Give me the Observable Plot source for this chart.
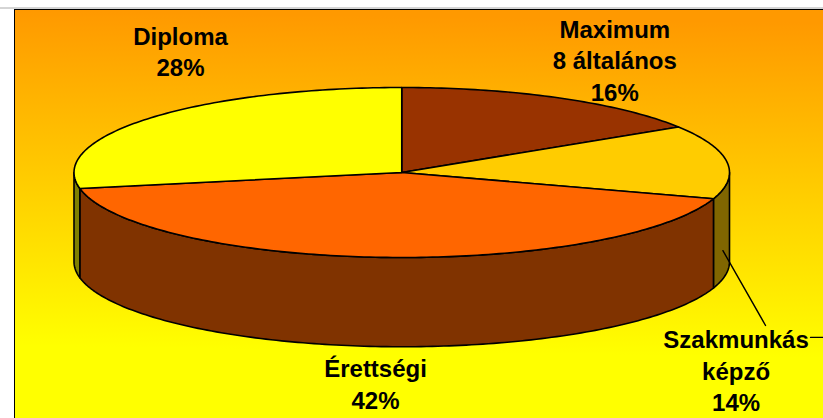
<!DOCTYPE html>
<html><head><meta charset="utf-8">
<script src="https://cdn.jsdelivr.net/npm/d3@7"></script>
<script src="https://cdn.jsdelivr.net/npm/@observablehq/plot@0.6"></script>
<style>html,body{margin:0;padding:0;background:#fff;overflow:hidden}svg{display:block}</style>
</head><body><div id="chart"></div>
<script>
const categories = ["Maximum\n8 általános\n16%", "Szakmunkás\nképző\n14%", "Érettségi\n42%", "Diploma\n28%"];
const shares = [16, 14, 42, 28];
const topColors = ["#993300", "#FFCC00", "#FF6600", "#FFFF00"];
const sideColors = ["#4d1a00", "#806600", "#803300", "#808000"];
const labelX = [0.65, 1.02, -0.08, -0.675];
const labelY = [1.84, -1.81, -2.15, 1.76];
const leaderX = [0.98, 1.11];
const leaderY = [-0.92, -1.8];
const stubX = [1.247, 1.3];
const stubY = [-1.94, -1.94];
const depth = 1.05;

const rad = d => d * Math.PI / 180;
const pt = (deg, drop = 0) => ({x: Math.sin(rad(deg)), y: Math.cos(rad(deg)) - drop});
function arc(a, b) {
  const out = [], n = Math.max(2, Math.ceil(Math.abs(b - a)));
  for (let i = 0; i <= n; ++i) out.push(a + (b - a) * i / n);
  return out;
}
let acc = 0;
const slices = shares.map((v, i) => {
  const a = acc * 3.6; acc += v; const b = acc * 3.6;
  return {a, b, top: topColors[i], side: sideColors[i], label: categories[i], lx: labelX[i], ly: labelY[i]};
});
const sideMarks = slices.filter(s => s.b > 90 && s.a < 270).map(s => {
  const a = Math.max(s.a, 90), b = Math.min(s.b, 270);
  const pts = [...arc(a, b).map(d => pt(d)), ...arc(b, a).map(d => pt(d, depth))];
  return Plot.line(pts, {x: "x", y: "y", fill: s.side, stroke: "#000", strokeWidth: 1.6, curve: "linear-closed"});
});
const topMarks = slices.map(s =>
  Plot.line([{x: 0, y: 0}, ...arc(s.a, s.b).map(d => pt(d))],
    {x: "x", y: "y", fill: s.top, stroke: "#000", strokeWidth: 1.6, curve: "linear-closed"}));

const defs = (index, scales, values, dims, context) => {
  const svg = context.document.createElementNS("http://www.w3.org/2000/svg", "g");
  svg.innerHTML = `<defs><linearGradient id="bg" gradientUnits="userSpaceOnUse" x1="5" y1="10" x2="0" y2="345">
    <stop offset="0" stop-color="#FF9900"/><stop offset="1" stop-color="#FFFF00"/></linearGradient></defs>
    <line x1="0" x2="823" y1="8" y2="8" stroke="#aaa"/>`;
  return svg;
};

const chart = Plot.plot({
  width: 823, height: 418,
  marginLeft: 14, marginTop: 9, marginRight: 0, marginBottom: 0,
  x: {domain: [-1, 1], range: [73.5, 729], axis: null},
  y: {domain: [-1, 1], range: [257, 87], axis: null},
  style: {background: "#fff", overflow: "hidden"},
  marks: [
    defs,
    Plot.frame({fill: "url(#bg)", stroke: null}),
    Plot.frame({anchor: "left", stroke: "#000"}),
    Plot.frame({anchor: "top", stroke: "#000"}),
    ...sideMarks,
    ...topMarks,
    Plot.line(leaderX.map((x, i) => ({x, y: leaderY[i]})), {x: "x", y: "y", stroke: "#000", strokeWidth: 1.4}),
    Plot.line(stubX.map((x, i) => ({x, y: stubY[i]})), {x: "x", y: "y", stroke: "#000", strokeWidth: 1.2}),
    Plot.text(slices, {x: "lx", y: "ly", text: "label", fill: "#000", stroke: null,
      fontFamily: "Liberation Sans", fontWeight: "bold", fontSize: 24, lineHeight: 1.3,
      lineAnchor: "top", textAnchor: "middle"})
  ]
});
document.getElementById("chart").append(chart);
</script></body></html>
